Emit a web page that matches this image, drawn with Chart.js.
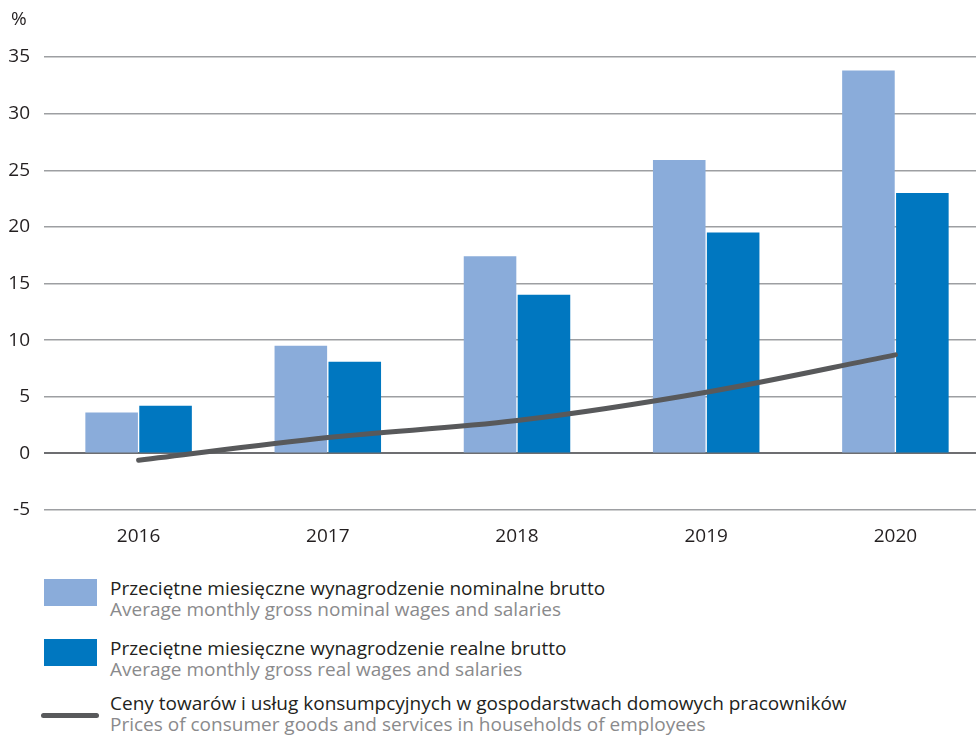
<!DOCTYPE html>
<html>
<head>
<meta charset="utf-8">
<script src="https://cdn.jsdelivr.net/npm/chart.js@4.4.1/dist/chart.umd.min.js"></script>
<style>
  html, body { margin: 0; padding: 0; background: #fff; overflow: hidden; }
  body { width: 976px; height: 736px; position: relative; font-family: "Open Sans", sans-serif; }
  #wrap { position: absolute; left: 0; top: 0; width: 990px; height: 560px; }
  #unit { position: absolute; left: 11px; top: 5px; font-size: 19px; color: #231f20; }
  .leg { position: absolute; left: 44px; }
  .leg .sw { position: absolute; left: 0; top: 0; width: 53px; height: 27px; }
  .leg .ln { position: absolute; left: -3px; width: 58px; height: 5px; border-radius: 3px; background: #58595b; }
  .leg .t { position: absolute; left: 66px; top: -1px; white-space: nowrap; font-size: 19px; line-height: 21px; }
  .leg .pl { color: #231f20; }
  .leg .en { color: #8a8a8c; }
</style>
</head>
<body>
<div id="wrap"><canvas id="chart" width="990" height="560"></canvas></div>
<div id="unit">%</div>

<div class="leg" style="top:579px">
  <div class="sw" style="background:#8aacda"></div>
  <div class="t"><div class="pl">Przeciętne miesięczne wynagrodzenie nominalne brutto</div><div class="en">Average monthly gross nominal wages and salaries</div></div>
</div>
<div class="leg" style="top:639px">
  <div class="sw" style="background:#0077c0"></div>
  <div class="t"><div class="pl">Przeciętne miesięczne wynagrodzenie realne brutto</div><div class="en">Average monthly gross real wages and salaries</div></div>
</div>
<div class="leg" style="top:694px">
  <div class="ln" style="top:19px"></div>
  <div class="t"><div class="pl">Ceny towarów i usług konsumpcyjnych w gospodarstwach domowych pracowników</div><div class="en">Prices of consumer goods and services in households of employees</div></div>
</div>

<script>
const years = ["2016", "2017", "2018", "2019", "2020"];
const nominalWages = [3.6, 9.5, 17.4, 25.9, 33.8];
const realWages = [4.2, 8.1, 14.0, 19.5, 23.0];
const consumerPrices = [-0.6, 1.4, 2.9, 5.4, 8.7];
const yTicks = [-5, 0, 5, 10, 15, 20, 25, 30, 35];

const ctx = document.getElementById("chart");

new Chart(ctx, {
    type: "bar",
    data: {
        labels: years,
        datasets: [
            {
                type: "line",
                label: "Ceny towarów i usług konsumpcyjnych",
                data: consumerPrices,
                borderColor: "#58595b",
                borderWidth: 5,
                borderCapStyle: "round",
                pointRadius: 0,
                tension: 0.35,
                fill: false,
                order: 0,
            },
            {
                label: "Nominalne",
                data: nominalWages,
                backgroundColor: "#8aacda",
                categoryPercentage: 0.57,
                barPercentage: 0.975,
                order: 1,
            },
            {
                label: "Realne",
                data: realWages,
                backgroundColor: "#0077c0",
                categoryPercentage: 0.57,
                barPercentage: 0.975,
                order: 1,
            },
        ],
    },
    options: {
        responsive: false,
        animation: false,
        layout: { padding: { top: 57, right: 0, bottom: 0, left: 0 } },
        plugins: {
            legend: { display: false },
            tooltip: { enabled: false },
        },
        scales: {
            x: {
                grid: { display: false, drawTicks: false },
                border: { display: false },
                ticks: {
                    color: "#231f20",
                    font: { family: "Open Sans", size: 19 },
                    padding: 15,
                },
                afterFit: (axis) => { axis.height = 50; },
            },
            y: {
                min: -5,
                max: 35,
                afterBuildTicks: (axis) => {
                    axis.ticks = yTicks.map((v) => ({ value: v }));
                },
                grid: {
                    drawTicks: false,
                    color: (c) => (c.tick && c.tick.value === 0 ? "#6d6e71" : "#9d9fa2"),
                    lineWidth: (c) => (c.tick && c.tick.value === 0 ? 2 : 1.5),
                },
                border: { display: false },
                ticks: {
                    color: "#231f20",
                    font: { family: "Open Sans", size: 19 },
                    padding: 14,
                },
                afterFit: (axis) => { axis.width = 44; },
            },
        },
    },
});
</script>
</body>
</html>
